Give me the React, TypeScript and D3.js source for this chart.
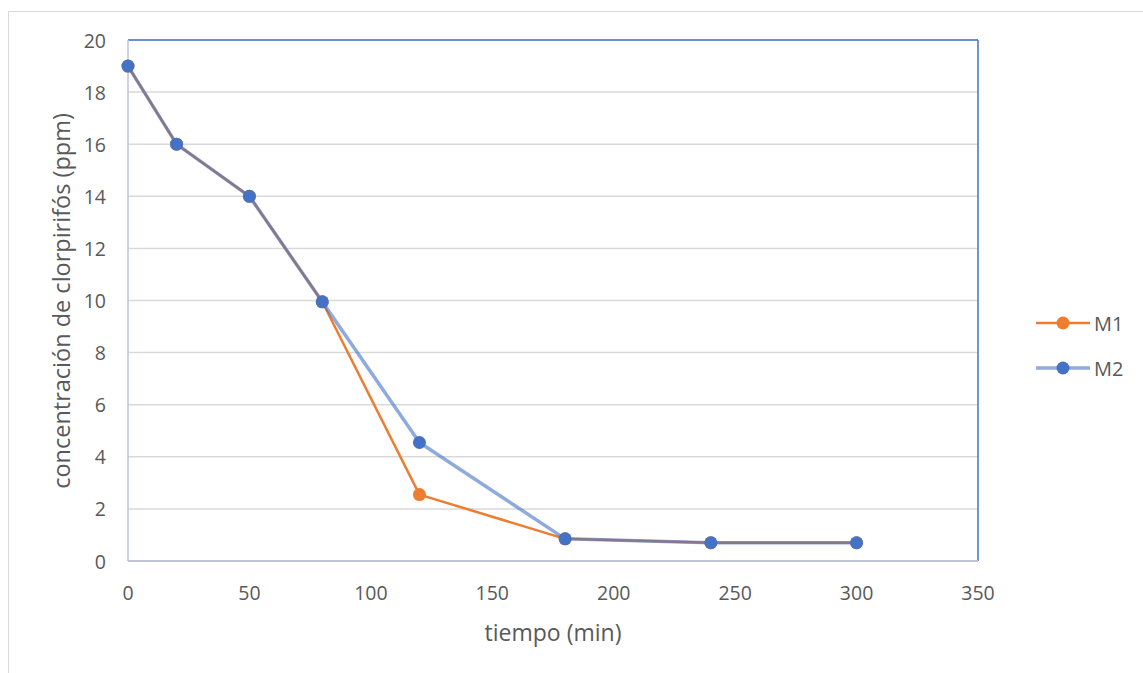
import React from "react";
import * as d3 from "d3";

const times = [0, 20, 50, 80, 120, 180, 240, 300];
const m1 = [19, 16, 14, 9.95, 2.55, 0.85, 0.7, 0.7];
const m2 = [19, 16, 14, 9.95, 4.55, 0.85, 0.7, 0.7];
const xTicks = [0, 50, 100, 150, 200, 250, 300, 350];
const yTicks = [0, 2, 4, 6, 8, 10, 12, 14, 16, 18, 20];
const seriesNames = ["M1", "M2"];

const W = 1143, H = 673;
const L = 128, R = 978, T = 40, B = 561;
const FONT = "'Open Sans', 'Noto Sans', sans-serif";
const ORANGE = "#ED7D31";
const BLUE = "#4472C4";

export default function App() {
  const x = d3.scaleLinear().domain([0, 350]).range([L, R]);
  const y = d3.scaleLinear().domain([0, 20]).range([B, T]);
  const line = d3.line<[number, number]>().x(d => x(d[0])).y(d => y(d[1]));
  const p1 = times.map((t, i) => [t, m1[i]] as [number, number]);
  const p2 = times.map((t, i) => [t, m2[i]] as [number, number]);

  return (
    <svg width={W} height={H} style={{ position: "absolute", left: 0, top: 0, display: "block" }}>
      <rect x={0} y={0} width={W} height={H} fill="#fff" />
      <rect x={8.5} y={11.5} width={1160} height={700} fill="#fff" stroke="#D9D9D9" strokeWidth={1} />
      {yTicks.filter(v => v > 0).map(v => (
        <line key={v} x1={L} x2={R} y1={y(v)} y2={y(v)} stroke="#D9D9D9" strokeWidth={1.5} />
      ))}
      {/* top & right border */}
      <line x1={L} x2={R} y1={T} y2={T} stroke={BLUE} strokeWidth={1.5} />
      <line x1={R} x2={R} y1={T} y2={B} stroke={BLUE} strokeWidth={1.5} />
      {/* axes */}
      <line x1={L} x2={L} y1={T} y2={B} stroke="#BFC3D4" strokeWidth={1.5} />
      <line x1={L} x2={R} y1={B} y2={B} stroke="#BFC3D4" strokeWidth={2} />
      {yTicks.map(v => (
        <text key={v} x={106} y={y(v)} textAnchor="end" dominantBaseline="central" fontFamily={FONT} fontSize={19.5} fill="#595959">{v}</text>
      ))}
      {xTicks.map(v => (
        <text key={v} x={x(v)} y={592} textAnchor="middle" dominantBaseline="central" fontFamily={FONT} fontSize={19.5} fill="#595959">{v}</text>
      ))}
      <text x={553} y={632} textAnchor="middle" dominantBaseline="central" fontFamily={FONT} fontSize={23} fill="#595959">tiempo (min)</text>
      <text transform={`translate(61, 301) rotate(-90)`} textAnchor="middle" dominantBaseline="central" fontFamily={FONT} fontSize={23.5} fill="#595959">concentración de clorpirifós (ppm)</text>

      <path d={line(p1) || ""} fill="none" stroke={ORANGE} strokeWidth={2.5} strokeLinejoin="round" />
      {p1.map((p, i) => (
        <circle key={"a" + i} cx={x(p[0])} cy={y(p[1])} r={6.5} fill={ORANGE} />
      ))}
      <path d={line(p2) || ""} fill="none" stroke={BLUE} strokeOpacity={0.6} strokeWidth={3.5} strokeLinejoin="round" />
      {p2.map((p, i) => (
        <circle key={"b" + i} cx={x(p[0])} cy={y(p[1])} r={6.5} fill={BLUE} />
      ))}

      {seriesNames.map((n, i) => {
        const ly = 323 + i * 45;
        const c = i === 0 ? ORANGE : BLUE;
        return (
          <g key={n}>
            <line x1={1036} x2={1090} y1={ly} y2={ly} stroke={c} strokeOpacity={i === 0 ? 1 : 0.6} strokeWidth={i === 0 ? 2.5 : 3.5} />
            <circle cx={1063} cy={ly} r={6.5} fill={c} />
            <text x={1094} y={ly} dominantBaseline="central" fontFamily={FONT} fontSize={20} fill="#595959">{n}</text>
          </g>
        );
      })}
    </svg>
  );
}
